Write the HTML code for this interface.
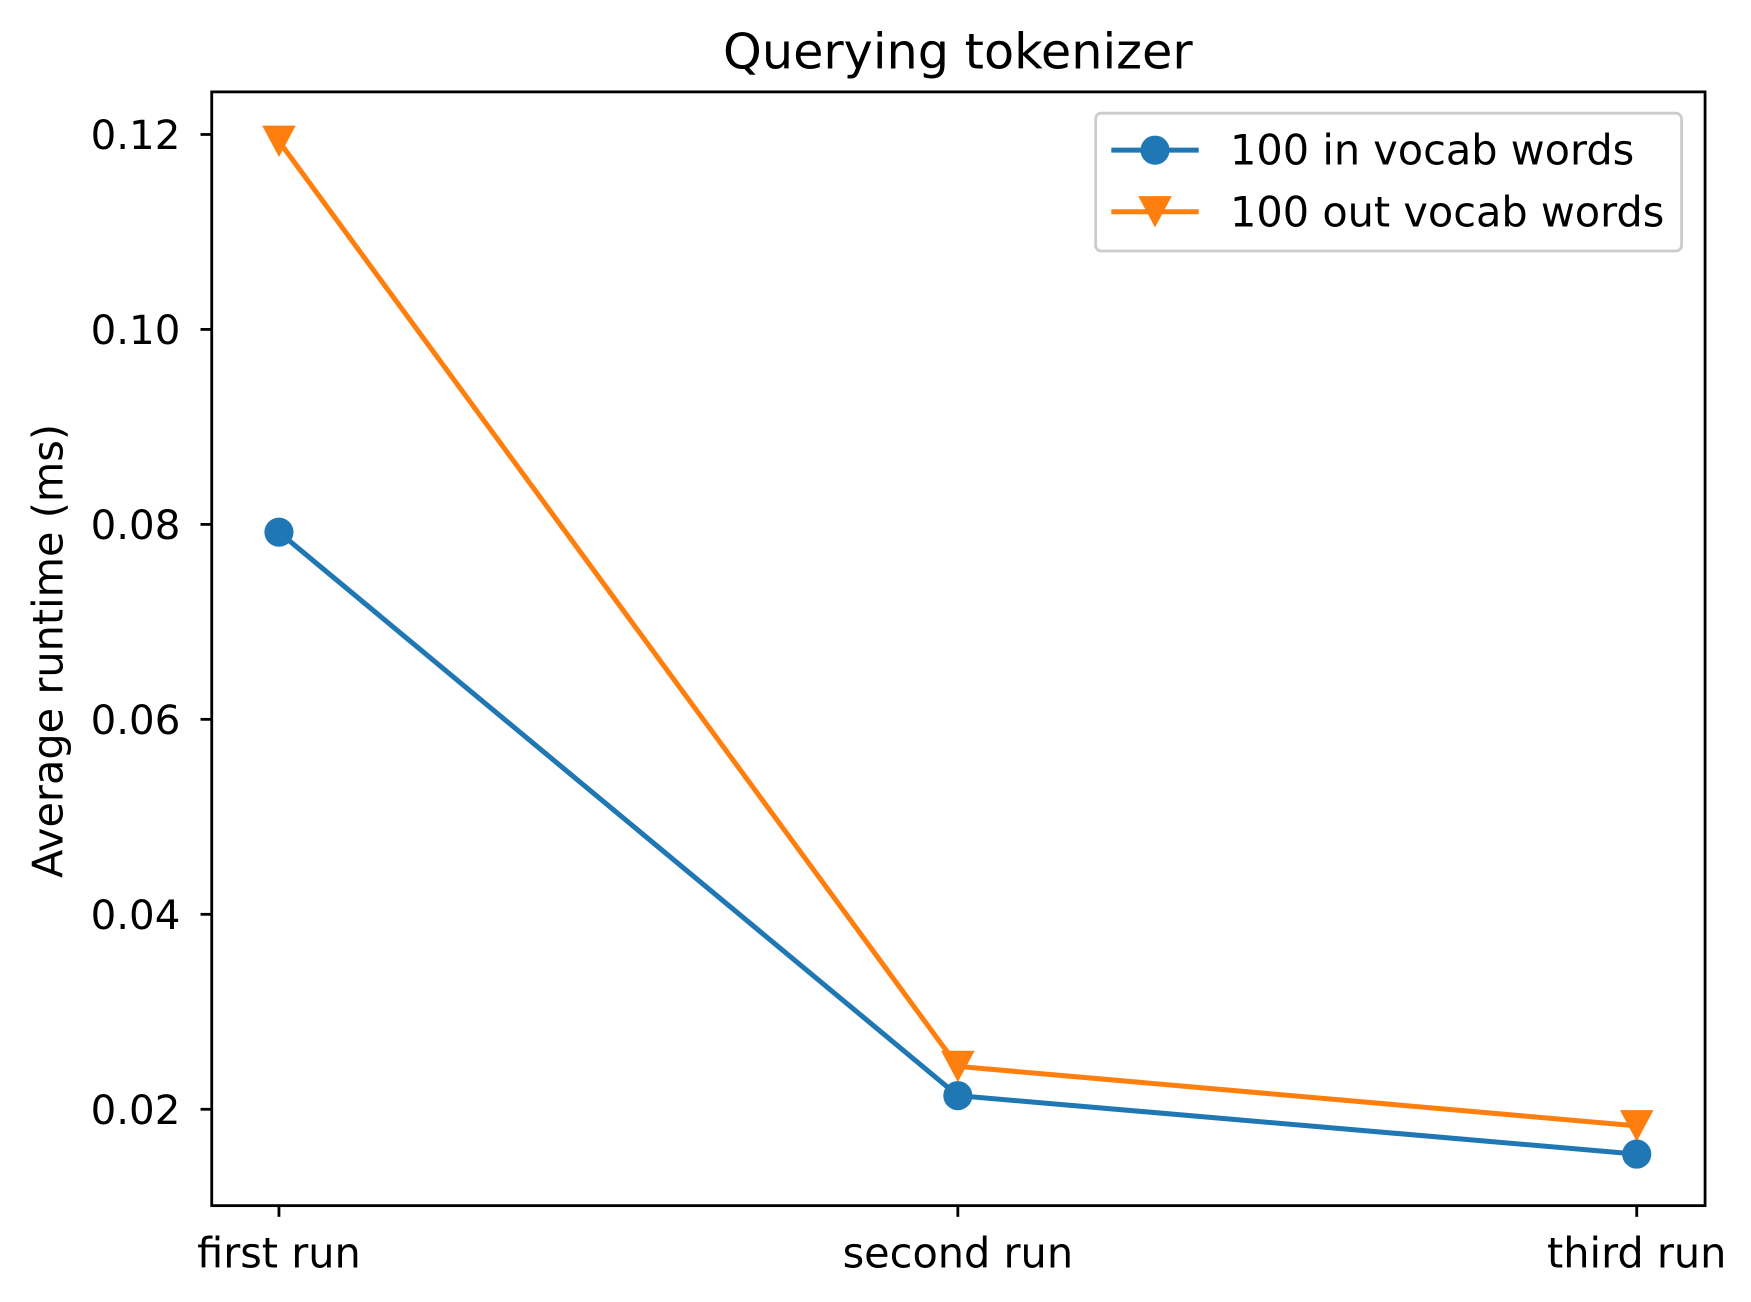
<!DOCTYPE html>
<html><head><meta charset="utf-8"><style>html,body{margin:0;padding:0;background:#fff}svg{display:block}text{font-family:"DejaVu Sans","Liberation Sans",sans-serif;fill:#000}</style></head>
<body>
<svg id="chart" width="1751" height="1302" viewBox="0 0 1563 1162" preserveAspectRatio="none" xmlns="http://www.w3.org/2000/svg">
<rect width="1563" height="1162" fill="#fff"/>
<text x="855" y="61" font-size="44" text-anchor="middle">Querying tokenizer</text>
<text transform="translate(56,581) rotate(-90)" font-size="37" text-anchor="middle">Average runtime (ms)</text>
<g id="ticks"></g>
<g id="series"></g>
<rect x="189" y="82" width="1333" height="994" fill="none" stroke="#000" stroke-width="2.5"/>
<g>
<rect x="978" y="101" width="523" height="123" rx="5" fill="#fff" fill-opacity="0.8" stroke="#ccc" stroke-width="2.5"/>
<line x1="992" y1="134" x2="1070" y2="134" stroke="#1f77b4" stroke-width="4.5"/>
<circle cx="1031" cy="134" r="13" fill="#1f77b4"/>
<text x="1098" y="147" font-size="37">100 in vocab words</text>
<line x1="992" y1="189" x2="1070" y2="189" stroke="#ff7f0e" stroke-width="4.5"/>
<polygon points="1016,175 1046,175 1031,203" fill="#ff7f0e"/>
<text x="1098" y="202" font-size="37">100 out vocab words</text>
</g>
</svg>
<script>
const categories = ["first run", "second run", "third run"];
const inVocab = [0.0792, 0.0214, 0.0154];
const outVocab = [0.1193, 0.0244, 0.0183];
const yTicks = [0.02, 0.04, 0.06, 0.08, 0.10, 0.12];
const yTickLabels = ["0.02", "0.04", "0.06", "0.08", "0.10", "0.12"];

const NS = "http://www.w3.org/2000/svg";
function xScale(i){ return 249 + i * 606; }
function yScale(v){ return 990 - (v - 0.02) * 8700; }
function mk(tag, attrs, parent){ const e=document.createElementNS(NS,tag); for(const k in attrs) e.setAttribute(k,attrs[k]); parent.appendChild(e); return e; }

const tg = document.getElementById('ticks');
yTicks.forEach((v,i)=>{
  const y=yScale(v);
  const l=mk('line',{x1:179,x2:189,y1:y,y2:y,stroke:'#000','stroke-width':2.5},tg);
  
  
  const t=mk('text',{x:161,y:y+13,'font-size':36,'text-anchor':'end'},tg);
  t.textContent=yTickLabels[i];
  
  
});
categories.forEach((c,i)=>{
  const x=xScale(i);
  const l=mk('line',{x1:x,x2:x,y1:1076,y2:1086,stroke:'#000','stroke-width':2.5},tg);
  
  
  const t=mk('text',{x:x,y:1131,'font-size':37,'text-anchor':'middle'},tg);
  t.textContent=c;
  
  
});

const sg = document.getElementById('series');
function drawSeries(vals,color,marker,name){
  const pts=vals.map((v,i)=>xScale(i)+','+yScale(v)).join(' ');
  const pl=mk('polyline',{points:pts,fill:'none',stroke:color,'stroke-width':4.5,'stroke-linejoin':'round'},sg);
  
  
  vals.forEach((v,i)=>{
    const x=xScale(i), y=yScale(v);
    let m;
    if(marker==='circle') m=mk('circle',{cx:x,cy:y,r:13,fill:color},sg);
    else m=mk('polygon',{points:(x-15)+','+(y-14)+' '+(x+15)+','+(y-14)+' '+x+','+(y+14),fill:color},sg);
    
    
  });
}
drawSeries(outVocab,'#ff7f0e','triangle','out-vocab');
drawSeries(inVocab,'#1f77b4','circle','in-vocab');
</script>
</body></html>
